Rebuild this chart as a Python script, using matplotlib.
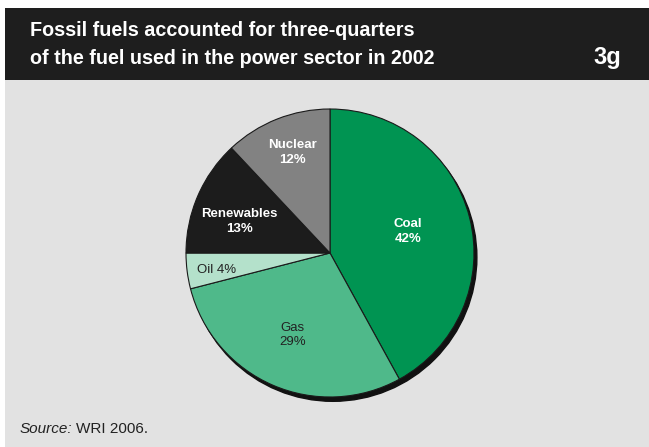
import matplotlib.pyplot as plt
from matplotlib.patches import Rectangle, Circle

# Fuel shares in the power sector, 2002 (%)
fuels = ['Coal', 'Gas', 'Oil', 'Renewables', 'Nuclear']
shares = [42, 29, 4, 13, 12]
colors = ['#009452', '#4fb98a', '#b4e1cb', '#1c1c1c', '#828282']
text_colors = ['white', '#222222', '#222222', 'white', 'white']
bold = [True, False, False, True, True]
# label anchor points inside each wedge (pie data units)
label_xy = [(0.54, 0.15), (-0.26, -0.57), (-0.79, -0.12), (-0.63, 0.22), (-0.26, 0.70)]

W, H = 649, 447
plt.rcParams['font.family'] = ['Liberation Sans', 'DejaVu Sans']
fig = plt.figure(figsize=(W / 100, H / 100), dpi=100)

# background in pixel coordinates
bg = fig.add_axes([0, 0, 1, 1])
bg.set_xlim(0, W)
bg.set_ylim(H, 0)
bg.axis('off')
bg.add_patch(Rectangle((5, 80), W - 5, H - 80, color='#e2e2e2', lw=0))
bg.add_patch(Rectangle((5, 8), W - 5, 72, color='#1e1e1e', lw=0))
bg.text(30, 36, 'Fossil fuels accounted for three-quarters', color='white',
        fontsize=14.2, fontweight='bold', va='baseline')
bg.text(30, 64, 'of the fuel used in the power sector in 2002', color='white',
        fontsize=14.2, fontweight='bold', va='baseline')
bg.text(621, 64, '3g', color='white', fontsize=17, fontweight='bold',
        ha='right', va='baseline')
src = bg.text(20, 433, 'Source:', color='#222222', fontsize=11, style='italic', va='baseline')
bg.annotate('WRI 2006.', xy=(1, 0), xytext=(3, 0), xycoords=src,
            textcoords='offset pixels', color='#222222', fontsize=11, va='bottom')

# pie
cx, cy, r = 330, 253, 144
ax = fig.add_axes([(cx - r) / W, (H - cy - r) / H, 2 * r / W, 2 * r / H])
ax.add_patch(Circle((0.02, -0.03), 1.0, color='#111111', zorder=0, clip_on=False))
ax.pie(shares, colors=colors, startangle=90, counterclock=False, radius=1.0,
       wedgeprops=dict(edgecolor='#1a1a1a', linewidth=0.8, clip_on=False))
ax.set_xlim(-1, 1)
ax.set_ylim(-1, 1)
ax.axis('off')

for name, v, (x, y), c, b in zip(fuels, shares, label_xy, text_colors, bold):
    if name == 'Oil':
        txt = f'{name} {v}%'
    else:
        txt = f'{name}\n{v}%'
    ax.text(x, y, txt, ha='center', va='center', color=c, fontsize=9.5,
            fontweight='bold' if b else 'normal', linespacing=1.3)

fig.savefig('out.png', dpi=100)
